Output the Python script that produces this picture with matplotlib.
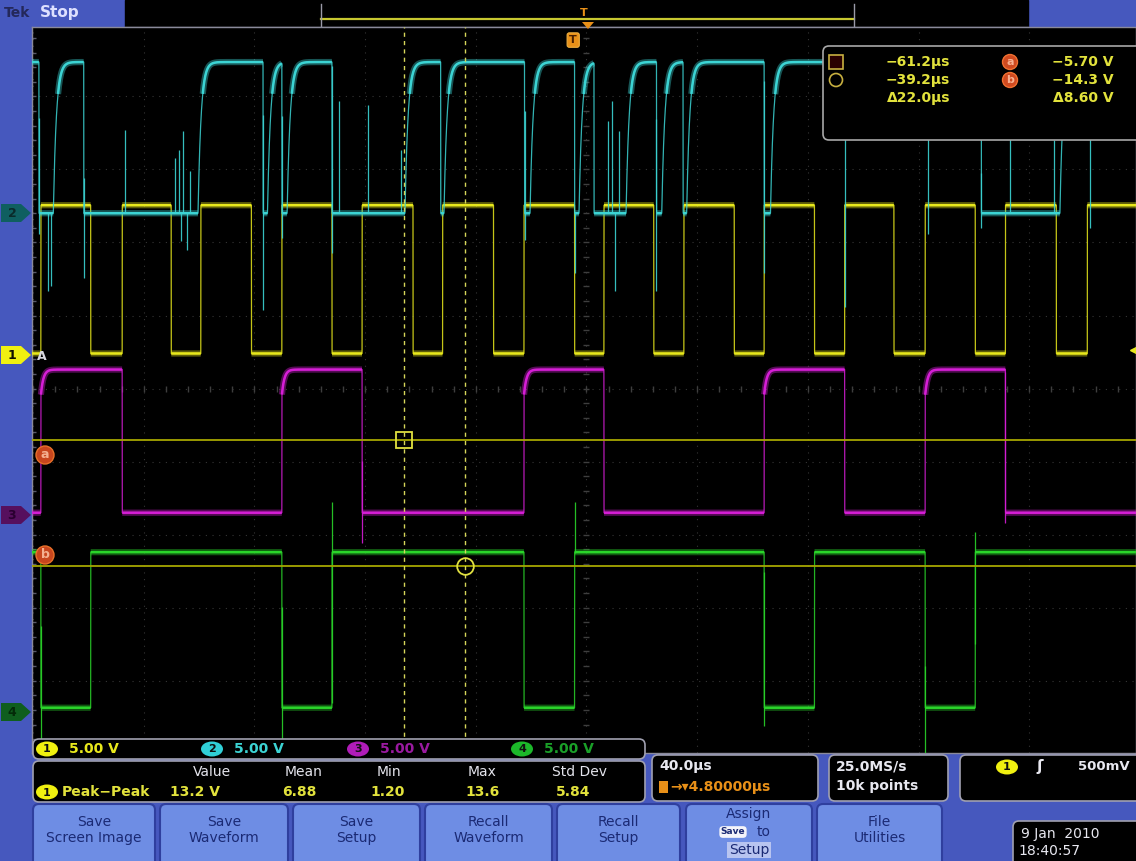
import numpy as np
import matplotlib.pyplot as plt
from matplotlib.patches import FancyBboxPatch, Rectangle, Polygon, Ellipse, Circle

plt.rcParams['font.family'] = ['DejaVu Sans']

W, H = 1136, 861

# horizontal: 40 us/div, screen centre at +4.8 us (trigger delay)
t_left, t_right = -195.6, 203.4
t_center = 4.8
us_per_div = 40.0
# vertical: 10 divisions, 5 V/div on all channels
div_bottom, div_top = -4.99, 4.95
v_per_div = 5.0

# ground position of each channel (divisions) and its logic levels (V)
ch_offset = [0.43, 2.40, -1.74, -4.44]
ch_low = [0.25, 0.0, 0.2, 0.35]
ch_high = [10.4, 10.35, 10.0, 11.0]
ch_color = ['#e8e81c', '#3cd4d4', '#d61ed6', '#2ad42a']

# edge times in us (levels alternate starting from the given state)
ch1_edges = [-192.4, -174.4, -163.0, -145.3, -134.6, -116.3, -105.3, -87.2,
             -76.3, -57.9, -47.2, -28.8, -17.8, 0.5, 11.1, 29.1, 40.0, 58.2,
             69.0, 87.2, 98.1, 115.9, 127.2, 145.3, 156.2, 174.6, 185.8]
ch1_start_high = False
ch2_edges = [-193.1, -187.9, -176.9, -135.6, -112.1, -110.5, -105.3, -103.4,
             -87.2, -60.8, -47.9, -46.7, -17.6, -15.6, 0.5, 2.1, 7.5, 19.1,
             30.1, 32.0, 39.7, 41.0, 69.0, 71.3, 147.5, 175.9]
ch2_start_high = True
ch3_edges = [-192.4, -163.0, -105.3, -76.3, -17.8, 11.1, 69.0, 98.1, 127.2, 156.2]
ch3_start_high = False
ch4_edges = [-192.4, -174.4, -105.3, -87.2, -17.8, 0.5, 69.0, 87.2, 127.2, 145.3]
ch4_start_high = True

# glitches / ringing: time (us) and peak value (V)
ch2_spike_t = [-193.1, -189.8, -188.9, -176.9, -162.1, -144.0, -142.6, -141.8,
               -141.0, -139.6, -138.5, -112.1, -105.3, -87.2, -84.7, -74.3,
               -62.1, -17.6, 0.5, 12.6, 14.0, 15.1, 16.5, 30.1, 69.0, 98.4,
               128.1, 147.5, 157.8, 173.9, 186.8]
ch2_spike_v = [-1.4, -5.3, -5.0, -4.4, 5.7, 3.8, 4.3, -1.9, 5.6, -2.5, 2.9,
               -6.6, -1.7, -2.7, 7.7, 7.4, 4.3, -1.8, -4.1, 6.3, 7.7, -5.3,
               5.6, -5.3, -4.1, -6.4, -1.4, -1.0, 8.0, 5.0, -1.0]
ch3_spike_t = [-76.3, 156.2]
ch3_spike_v = [-1.9, -0.5]
ch4_spike_t = [-192.4, -105.3, -87.2, 0.5, 69.0, 127.2, 145.3]
ch4_spike_v = [-2.0, -2.0, 14.4, 14.4, -0.9, -2.8, 12.4]

# cursors (ch1 units)
cursor_t = [-61.2, -39.2]
cursor_v = [-5.70, -14.3]
trig_level = 0.5

t = np.linspace(t_left, t_right, 24000)


def square(edges, start_high, lo, hi, tau=0.0, knee=1.0):
    edges = np.asarray(edges)
    n = np.searchsorted(edges, t, side='right')
    high = (n % 2 == 0) == start_high
    v = np.where(high, hi, lo)
    if tau > 0:
        last = edges[np.maximum(n - 1, 0)]
        rising = high & (n > 0)
        v = np.where(rising, hi - (hi - lo) * knee * np.exp(-(t - last) / tau), v)
    return v


fig = plt.figure(figsize=(W / 100, H / 100), dpi=100)
fig.patch.set_facecolor('#4658be')

bg = fig.add_axes([0, 0, 1, 1], zorder=0)
bg.set_xlim(0, W)
bg.set_ylim(H, 0)
bg.axis('off')

ax = fig.add_axes([32 / W, 1 - 753 / H, (W - 32) / W, (753 - 27) / H], zorder=1)
ax.set_facecolor('black')
ax.set_xlim(t_left, t_right)
ax.set_ylim(div_bottom, div_top)
ax.set_xticks([])
ax.set_yticks([])
for s in ax.spines.values():
    s.set_color('#8a8a9a')
    s.set_linewidth(1.0)

# graticule
grid_c = '#363636'
for k in range(-5, 6):
    ax.axvline(t_center + us_per_div * k, color=grid_c, lw=0.8, ls=(0, (1, 5)), zorder=0)
    ax.axhline(k, color=grid_c, lw=0.8, ls=(0, (1, 5)), zorder=0)
minor_t = t_center + np.arange(-25, 26) * us_per_div / 5
minor_d = np.arange(-25, 26) / 5
ax.plot(minor_t, np.zeros_like(minor_t), ls='none', marker='|', ms=4, color='#3e3e3e', zorder=0)
ax.plot(np.full_like(minor_d, t_center), minor_d, ls='none', marker='_', ms=4, color='#3e3e3e', zorder=0)
ax.plot(np.full_like(minor_d, t_left + 0.4), minor_d, ls='none', marker='_', ms=5, color='#5a5a6a', zorder=0)

# waveforms
waves = [
    (ch1_edges, ch1_start_high, 0.0, 1.0, [], []),
    (ch2_edges, ch2_start_high, 1.1, 1.0, ch2_spike_t, ch2_spike_v),
    (ch3_edges, ch3_start_high, 0.9, 0.18, ch3_spike_t, ch3_spike_v),
    (ch4_edges, ch4_start_high, 0.0, 1.0, ch4_spike_t, ch4_spike_v),
]
for i, (edges, start, tau, knee, sp_t, sp_v) in enumerate(waves):
    v = square(edges, start, ch_low[i], ch_high[i], tau, knee)
    y = ch_offset[i] + v / v_per_div
    col = ch_color[i]
    ax.plot(t, y, color=col, lw=0.9, alpha=0.85, zorder=3)
    slope = np.abs(np.gradient(y, t))
    y_flat = np.where(slope < 0.4, y, np.nan)
    ax.plot(t, y_flat, color=col, lw=4.5, alpha=0.4, zorder=3, solid_capstyle='butt')
    ax.plot(t, y_flat, color=col, lw=1.8, zorder=3, solid_capstyle='butt')
    if sp_t:
        y0 = np.interp(sp_t, t, y)
        y1 = ch_offset[i] + np.asarray(sp_v) / v_per_div
        ax.vlines(sp_t, y0, y1, color=col, lw=0.9, alpha=0.9, zorder=3)

# cursors
cur_y = [ch_offset[0] + v / v_per_div for v in cursor_v]
for cy in cur_y:
    ax.axhline(cy, color='#a6a600', lw=1.3, zorder=4)
for ct in cursor_t:
    ax.axvline(ct, color='#d6d65a', lw=1.0, ls=(0, (3, 3)), zorder=4)
ax.plot(cursor_t[0], cur_y[0], marker='s', ms=11, mfc='none', mec='#e0e040', mew=1.3, zorder=5)
ax.plot(cursor_t[1], cur_y[1], marker='o', ms=12, mfc='none', mec='#e0e040', mew=1.3, zorder=5)

# trigger marker and level arrow
ax.text(0, 0.982, 'T', transform=ax.get_xaxis_transform(), ha='center', va='center',
        color='#4a2000', fontsize=8, fontweight='bold', zorder=6,
        bbox=dict(boxstyle='round,pad=0.2', fc='#e89018', ec='#f0b040', lw=0.8))
ax.plot(t_right, ch_offset[0] + trig_level / v_per_div, marker='<', ms=8,
        color='#e8e81c', clip_on=False, zorder=6)

# top bar
bg.add_patch(Rectangle((125, 0), 903, 27, color='black'))
bg.plot([125, 1028], [27, 27], color='#8a8a9a', lw=1)
bg.plot([321, 854], [19, 19], color='#c8c830', lw=1.6)
bg.plot([321, 321], [4, 27], color='#9a9aa8', lw=1)
bg.plot([854, 854], [4, 27], color='#9a9aa8', lw=1)
bg.text(4, 13, 'Tek', color='#24285a', fontsize=10, fontweight='bold', va='center')
bg.text(40, 12, 'Stop', color='#dde0ff', fontsize=11, fontweight='bold', va='center')

ui = fig.add_axes([0, 0, 1, 1], zorder=3)
ui.set_xlim(0, W)
ui.set_ylim(H, 0)
ui.axis('off')
ui.patch.set_alpha(0)

ui.text(584, 13, 'T', color='#e89018', fontsize=8, fontweight='bold', ha='center', va='center')
ui.add_patch(Polygon([(582, 22), (594, 22), (588, 29)], closed=True, fc='#e89018', ec='none'))

# channel tags on the left edge
tags = [('2', 213, '#0f5f60', '#0a2a2a'), ('1', 355, '#f0f010', '#101000'),
        ('3', 515, '#56105e', '#2a0030'), ('4', 712, '#0f5e1e', '#032a08')]
for lab, yy, fc, tc in tags:
    ui.add_patch(Polygon([(1, yy - 9), (21, yy - 9), (31, yy), (21, yy + 9), (1, yy + 9)],
                         closed=True, fc=fc, ec='none'))
    ui.text(12, yy + 0.5, lab, color=tc, fontsize=9, fontweight='bold', ha='center', va='center')
ui.text(42, 356, 'A', color='#d8d8e0', fontsize=9, fontweight='bold', ha='center', va='center')
for lab, yy in [('a', 455), ('b', 555)]:
    ui.add_patch(Circle((45, yy), 9, fc='#c8461e', ec='#e8702a', lw=1))
    ui.text(45, yy, lab, color='#f4b090', fontsize=9, fontweight='bold', ha='center', va='center')

# cursor readout box
ui.add_patch(FancyBboxPatch((823, 46), 330, 94, boxstyle='round,pad=0,rounding_size=6',
                            fc='black', ec='#a8a8a8', lw=1.2))
ui.add_patch(Rectangle((829, 55), 14, 14, fc='#2a0000', ec='#c8b040', lw=1.2))
ui.add_patch(Circle((836, 80), 6.5, fc='none', ec='#c8b040', lw=1.2))
txt_y = '#e2e23c'
for yy, s in zip([62, 80, 98], ['\u221261.2\u00b5s', '\u221239.2\u00b5s', '\u039422.0\u00b5s']):
    ui.text(950, yy, s, color=txt_y, fontsize=10, fontweight='bold', ha='right', va='center')
for yy, s in zip([62, 80, 98], ['\u22125.70 V', '\u221214.3 V', '\u03948.60 V']):
    ui.text(1114, yy, s, color=txt_y, fontsize=10, fontweight='bold', ha='right', va='center')
for lab, yy in [('a', 62), ('b', 80)]:
    ui.add_patch(Circle((1010, yy), 7.5, fc='#d04a20', ec='#f07030', lw=1))
    ui.text(1010, yy, lab, color='#f8b090', fontsize=8, fontweight='bold', ha='center', va='center')

box_kw = dict(boxstyle='round,pad=0,rounding_size=6', fc='black', ec='#a0a0b0', lw=1.2)

# channel scale bar
ui.add_patch(FancyBboxPatch((33, 739), 612, 20, **box_kw))
chan_x = [47, 212, 358, 522]
chan_fc = ['#f0f010', '#30d0d8', '#b01cb8', '#1cb82a']
chan_tc = ['#e8e81c', '#3cd4d4', '#9a1aa0', '#1aa028']
for i in range(4):
    ui.add_patch(Ellipse((chan_x[i], 749), 22, 15, fc=chan_fc[i], ec='none'))
    ui.text(chan_x[i], 749.5, str(i + 1), color='#101010', fontsize=8, fontweight='bold',
            ha='center', va='center')
    ui.text(chan_x[i] + 22, 749, '%.2f V' % v_per_div, color=chan_tc[i], fontsize=10,
            fontweight='bold', va='center')

# measurement table
meas_head = ['Value', 'Mean', 'Min', 'Max', 'Std Dev']
meas_vals = ['13.2 V', '6.88', '1.20', '13.6', '5.84']
head_x = [212, 304, 389, 482, 579]
val_x = [170, 282, 370, 465, 556]
ui.add_patch(FancyBboxPatch((33, 761), 612, 41, **box_kw))
for hx, s in zip(head_x, meas_head):
    ui.text(hx, 772, s, color='#e4e4ec', fontsize=10, ha='center', va='center')
for vx, s in zip(val_x, meas_vals):
    ui.text(vx, 792, s, color='#e2e23c', fontsize=10, fontweight='bold', va='center')
ui.add_patch(Ellipse((47, 792), 22, 15, fc='#f0f010', ec='none'))
ui.text(47, 792.5, '1', color='#101010', fontsize=8, fontweight='bold', ha='center', va='center')
ui.text(62, 792, 'Peak\u2212Peak', color='#e2e23c', fontsize=10, fontweight='bold', va='center')

# timebase, acquisition and trigger readouts
ui.add_patch(FancyBboxPatch((652, 755), 166, 46, **box_kw))
ui.text(659, 766, '40.0\u00b5s', color='#e8e8f0', fontsize=10, fontweight='bold', va='center')
ui.add_patch(Rectangle((659, 781), 9, 12, fc='#e89018', ec='none'))
ui.text(670, 787, '\u2192\u25be4.80000\u00b5s', color='#e89018', fontsize=10,
        fontweight='bold', va='center')
ui.add_patch(FancyBboxPatch((829, 755), 119, 46, **box_kw))
ui.text(836, 766, '25.0MS/s', color='#e8e8f0', fontsize=10, fontweight='bold', va='center')
ui.text(836, 786, '10k points', color='#e8e8f0', fontsize=10, fontweight='bold', va='center')
ui.add_patch(FancyBboxPatch((960, 755), 190, 46, **box_kw))
ui.add_patch(Ellipse((1007, 767), 22, 15, fc='#f0f010', ec='none'))
ui.text(1007, 767.5, '1', color='#101010', fontsize=8, fontweight='bold', ha='center', va='center')
ui.text(1040, 767, '\u0283', color='#e8e8f0', fontsize=11, fontweight='bold', ha='center', va='center')
ui.text(1078, 767, '%dmV' % int(trig_level * 1000), color='#e8e8f0', fontsize=9.5,
        fontweight='bold', va='center')

# soft-key buttons
buttons = [('Save\nScreen Image', 33, 155), ('Save\nWaveform', 160, 288),
           ('Save\nSetup', 293, 420), ('Recall\nWaveform', 425, 552),
           ('Recall\nSetup', 557, 680), ('', 686, 812), ('File\nUtilities', 817, 942)]
btn_tc = '#1b2a74'
for label, x0, x1 in buttons:
    ui.add_patch(FancyBboxPatch((x0, 804), x1 - x0, 70, boxstyle='round,pad=0,rounding_size=6',
                                fc='#6e8de4', ec='#2f3f9e', lw=1.5))
    if label:
        ui.text((x0 + x1) / 2, 830, label, color=btn_tc, fontsize=10, ha='center', va='center',
                linespacing=1.15)
ui.text(749, 814, 'Assign', color=btn_tc, fontsize=10, ha='center', va='center')
ui.text(733, 832, 'Save', color=btn_tc, fontsize=6.5, fontweight='bold', ha='center', va='center',
        bbox=dict(boxstyle='round,pad=0.15,rounding_size=0.4', fc='#f4f4fa', ec='none'))
ui.text(764, 832, 'to', color=btn_tc, fontsize=10, ha='center', va='center')
ui.text(749, 850, 'Setup', color=btn_tc, fontsize=10, ha='center', va='center',
        bbox=dict(boxstyle='square,pad=0.1', fc='#b8c4f0', ec='none'))

# date
ui.add_patch(FancyBboxPatch((1013, 821), 140, 50, **box_kw))
ui.text(1021, 834, '9 Jan  2010', color='#e8e8f0', fontsize=10, va='center')
ui.text(1018, 851, '18:40:57', color='#e8e8f0', fontsize=10, va='center')

fig.savefig('out.png', dpi=100, facecolor=fig.get_facecolor())
